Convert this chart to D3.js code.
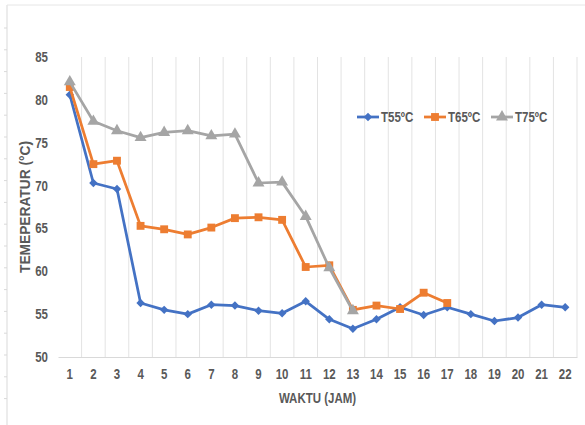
<!DOCTYPE html>
<html>
<head>
<meta charset="utf-8">
<script src="https://cdn.jsdelivr.net/npm/d3@7"></script>
<style>
  body { margin: 0; background: #fff; }
  text { font-family: "Liberation Sans", Arial, sans-serif; font-weight: bold; fill: #595959; }
</style>
</head>
<body>
<div id="chart"></div>
<script>
'use strict'

// hours on the x axis
const hours = d3.range(1, 23)
const yTicks = [50, 55, 60, 65, 70, 75, 80, 85]

const seriesNames = ["T55ºC", "T65ºC", "T75ºC"]
const t55 = [80.6, 70.3, 69.6, 56.3, 55.5, 55.0, 56.1, 56.0, 55.4, 55.1, 56.5, 54.4, 53.3, 54.4, 55.8, 54.9, 55.8, 55.0, 54.2, 54.6, 56.1, 55.8]
const t65 = [81.5, 72.5, 72.9, 65.3, 64.9, 64.3, 65.1, 66.2, 66.3, 66.0, 60.5, 60.7, 55.5, 56.0, 55.6, 57.5, 56.3]
const t75 = [82.1, 77.5, 76.4, 75.6, 76.2, 76.4, 75.8, 76.0, 70.3, 70.4, 66.4, 60.4, 55.4]

const colors = ["#4472C4", "#ED7D31", "#A5A5A5"]
const symbols = [d3.symbolDiamond2, d3.symbolSquare, d3.symbolTriangle]
const symSizes = [45, 62, 62]

const svgWidth = 585, svgHeight = 425
const margin = { left: 58, right: 8, top: 57, bottom: 68 }
const width = svgWidth - margin.left - margin.right
const height = svgHeight - margin.top - margin.bottom

const svg = d3.select("#chart").append("svg")
    .attr("width", svgWidth)
    .attr("height", svgHeight)

// outer frame (left + top) with small ticks
svg.append("line")
    .attr("x1", 7).attr("x2", 7).attr("y1", 5).attr("y2", svgHeight)
    .attr("stroke", "#d9d9d9").attr("stroke-width", 1)
svg.append("line")
    .attr("x1", 7).attr("x2", svgWidth).attr("y1", 5).attr("y2", 5)
    .attr("stroke", "#e6e6e6").attr("stroke-width", 1)
svg.append("g").selectAll("line")
    .data(d3.range(28, 410, 21.8))
    .join("line")
    .attr("x1", 4).attr("x2", 7)
    .attr("y1", d => d).attr("y2", d => d)
    .attr("stroke", "#d9d9d9")

const g = svg.append("g")
    .attr("transform", `translate(${margin.left},${margin.top})`)

// scales
const x = d3.scaleBand()
    .domain(hours)
    .range([0, width])

const y = d3.scaleLinear()
    .domain([50, 85])
    .range([height, 0])

// vertical gridlines at category boundaries
g.append("g")
    .selectAll("line")
    .data(hours.slice(1).concat([null]))
    .join("line")
    .attr("x1", d => d === null ? width : x(d))
    .attr("x2", d => d === null ? width : x(d))
    .attr("y1", 0)
    .attr("y2", height)
    .attr("stroke", "#e3e3e3")
    .attr("stroke-width", 1)

// x axis
const xAxis = d3.axisBottom(x).tickSize(0).tickPadding(12)
const xg = g.append("g")
    .attr("transform", `translate(0,${height})`)
    .call(xAxis)
xg.select(".domain").attr("stroke", "#d9d9d9")
xg.selectAll("text").attr("font-size", "14px")

// y axis
const yAxis = d3.axisLeft(y).tickValues(yTicks).tickSize(0).tickPadding(10)
const yg = g.append("g").call(yAxis)
yg.select(".domain").remove()
yg.selectAll("text").attr("font-size", "14px")
g.selectAll(".tick text").attr("font-family", null).attr("fill", null)

// axis titles
svg.append("text")
    .attr("transform", `translate(30,${margin.top + height / 2}) rotate(-90)`)
    .attr("text-anchor", "middle")
    .attr("font-size", "14px")
    .attr("class", "fixed")
    .attr("textLength", 132)
    .attr("lengthAdjust", "spacingAndGlyphs")
    .text("TEMEPERATUR (°C)")

svg.append("text")
    .attr("x", margin.left + width / 2)
    .attr("y", 403)
    .attr("text-anchor", "middle")
    .attr("font-size", "14px")
    .text("WAKTU (JAM)")

// series
const allSeries = [t55, t65, t75]
const line = d3.line()
    .x((d, i) => x(hours[i]) + x.bandwidth() / 2)
    .y(d => y(d))

allSeries.forEach((vals, s) => {
    g.append("path")
        .datum(vals)
        .attr("fill", "none")
        .attr("stroke", colors[s])
        .attr("stroke-width", 2.75)
        .attr("stroke-linejoin", "round")
        .attr("d", line)

    g.append("g")
        .selectAll("path")
        .data(vals)
        .join("path")
        .attr("transform", (d, i) => `translate(${x(hours[i]) + x.bandwidth() / 2},${y(d)})`)
        .attr("d", d3.symbol().type(symbols[s]).size(symSizes[s]))
        .attr("fill", colors[s])
})

// legend
const legendX = [357, 424, 491]
const legend = svg.append("g").attr("transform", "translate(0,117)")
seriesNames.forEach((name, s) => {
    const item = legend.append("g").attr("transform", `translate(${legendX[s]},0)`)
    item.append("line")
        .attr("x1", 0).attr("x2", 22)
        .attr("stroke", colors[s]).attr("stroke-width", 2.75)
    item.append("path")
        .attr("transform", "translate(11,0)")
        .attr("d", d3.symbol().type(symbols[s]).size(symSizes[s]))
        .attr("fill", colors[s])
    item.append("text")
        .attr("x", 24)
        .attr("dy", "0.36em")
        .attr("font-size", "14px")
        .text(name)
})

// squeeze glyphs horizontally, like a narrow font
svg.selectAll("text:not(.fixed)").each(function () {
    const w = this.getComputedTextLength()
    d3.select(this)
        .attr("textLength", w * 0.82)
        .attr("lengthAdjust", "spacingAndGlyphs")
})
</script>
</body>
</html>
